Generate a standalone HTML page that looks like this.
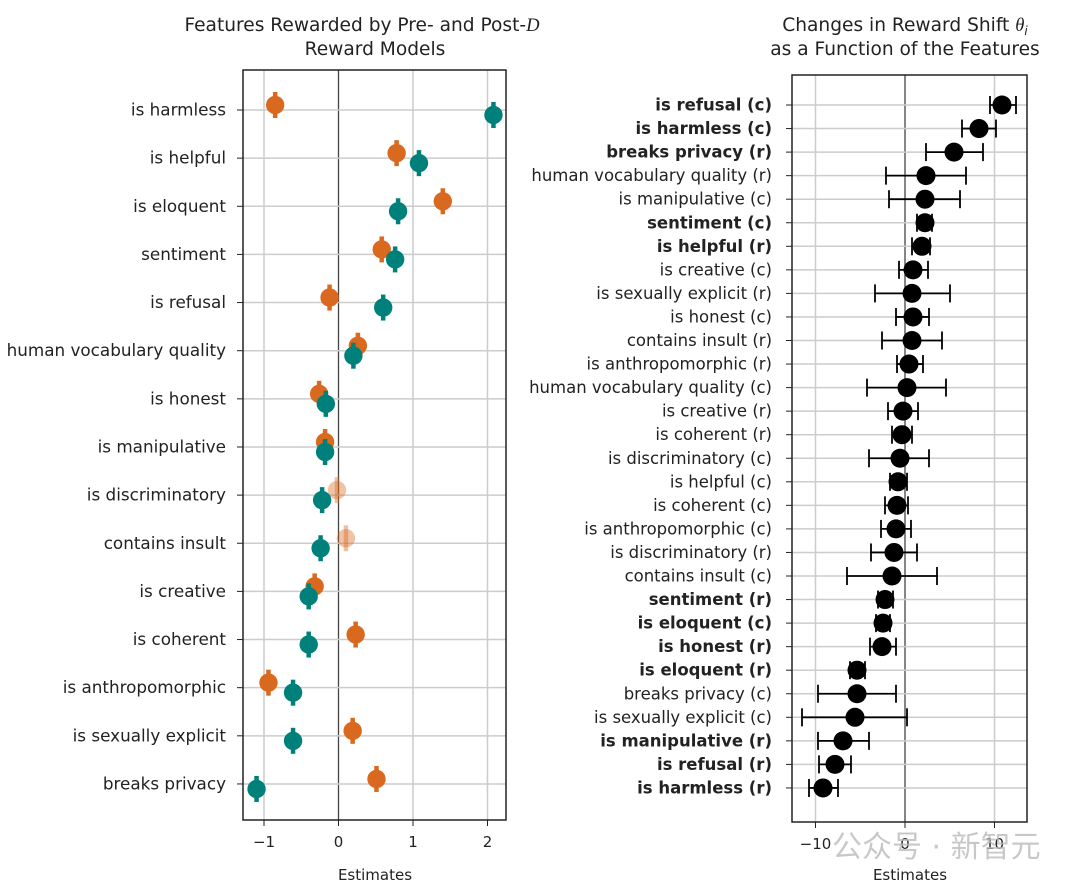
<!DOCTYPE html>
<html><head><meta charset="utf-8"><style>
html,body{margin:0;padding:0;background:#fff}
svg text{font-family:"DejaVu Sans","Liberation Sans",sans-serif;fill:#222}
</style></head><body>
<svg id="s" width="1080" height="888" xmlns="http://www.w3.org/2000/svg">
<text x="362" y="31" font-size="18.6" text-anchor="middle">Features Rewarded by Pre- and Post-<tspan font-style="italic" font-family="Liberation Serif">D</tspan></text>
<text x="375" y="55" font-size="18.6" text-anchor="middle">Reward Models</text>
<text x="905" y="31" font-size="18.6" text-anchor="middle">Changes in Reward Shift <tspan font-style="italic" font-family="Liberation Serif">θ</tspan><tspan font-size="12" dy="4" font-style="italic">i</tspan></text>
<text x="905" y="55" font-size="18.6" text-anchor="middle">as a Function of the Features</text>
<g id="L"></g><g id="R"></g>
<text x="375" y="880" font-size="15" text-anchor="middle">Estimates</text>
<text x="910" y="880" font-size="15" text-anchor="middle">Estimates</text>
<text x="832" y="857" font-size="30" fill="#bbb" style="fill:#bbb;opacity:.8" font-family="Noto Sans CJK SC,sans-serif">公众号 · 新智元</text>
</svg>
<script>
const NS="http://www.w3.org/2000/svg";
function el(p,t,a,txt){const e=document.createElementNS(NS,t);for(const k in a)e.setAttribute(k,a[k]);if(txt!==undefined)e.textContent=txt;p.appendChild(e);return e;}
const L=document.getElementById('L');
const lx=v=>338.5+74.5*v;
const rowsL=[["is harmless",-0.85,2.08],["is helpful",0.78,1.08],["is eloquent",1.4,0.8],["sentiment",0.58,0.76],["is refusal",-0.12,0.6],["human vocabulary quality",0.26,0.2],["is honest",-0.26,-0.17],["is manipulative",-0.18,-0.18],["is discriminatory",-0.02,-0.22,1],["contains insult",0.1,-0.24,1],["is creative",-0.32,-0.4],["is coherent",0.23,-0.4],["is anthropomorphic",-0.94,-0.61],["is sexually explicit",0.19,-0.61],["breaks privacy",0.51,-1.1]];
[-1,0,1,2].forEach(v=>{el(L,'line',{x1:lx(v),x2:lx(v),y1:70,y2:820,stroke:v==0?'#444':'#ccc','stroke-width':v==0?1.3:1.5});el(L,'line',{x1:lx(v),x2:lx(v),y1:820,y2:826,stroke:'#222'});el(L,'text',{x:lx(v),y:847,'font-size':15,'text-anchor':'middle'},v<0?'−1':String(v));});
rowsL.forEach((r,i)=>{const y=110+48.14*i;el(L,'line',{x1:243,x2:506,y1:y,y2:y,stroke:'#ccc','stroke-width':1.5});el(L,'line',{x1:237,x2:243,y1:y,y2:y,stroke:'#222'});el(L,'text',{x:226,y:y+5.5,'font-size':16.8,'text-anchor':'end'},r[0]);});
rowsL.forEach((r,i)=>{const y=110+48.14*i;
 const o=r[3]?0.4:1;
 [[r[1],y-5,'#d9691f',o],[r[2],y+5,'#00807a',1]].forEach(([v,yy,c,op])=>{el(L,'line',{x1:lx(v),x2:lx(v),y1:yy-13,y2:yy+13,stroke:c,'stroke-width':4.5,opacity:op});el(L,'circle',{cx:lx(v),cy:yy,r:9.2,fill:c,opacity:op});});});
el(L,'rect',{x:243,y:70,width:263,height:750,fill:'none',stroke:'#222','stroke-width':1.5});
const R=document.getElementById('R');
const rx=v=>905+8.95*v;
const rowsR=[["is refusal (c)",1,1002,990,1016],["is harmless (c)",1,979,962,996],["breaks privacy (r)",1,954,926,983],["human vocabulary quality (r)",0,926,886,966],["is manipulative (c)",0,925,889,960],["sentiment (c)",1,925,917,932],["is helpful (r)",1,922,912,930],["is creative (c)",0,913,899,928],["is sexually explicit (r)",0,912,875,950],["is honest (c)",0,913,896,929],["contains insult (r)",0,912,882,942],["is anthropomorphic (r)",0,909,897,923],["human vocabulary quality (c)",0,907,867,946],["is creative (r)",0,903,888,918],["is coherent (r)",0,902,892,912],["is discriminatory (c)",0,900,869,929],["is helpful (c)",0,898,890,907],["is coherent (c)",0,897,885,908],["is anthropomorphic (c)",0,896,881,911],["is discriminatory (r)",0,894,871,917],["contains insult (c)",0,892,847,937],["sentiment (r)",1,885,878,893],["is eloquent (c)",1,883,876,890],["is honest (r)",1,882,870,896],["is eloquent (r)",1,857,850,865],["breaks privacy (c)",0,857,818,896],["is sexually explicit (c)",0,855,802,907],["is manipulative (r)",1,843,818,869],["is refusal (r)",1,835,819,851],["is harmless (r)",1,823,809,838]];
[-10,0,10].forEach(v=>{el(R,'line',{x1:rx(v),x2:rx(v),y1:75,y2:822,stroke:v==0?'#444':'#ccc','stroke-width':v==0?1.3:1.5});el(R,'line',{x1:rx(v),x2:rx(v),y1:822,y2:828,stroke:'#222'});el(R,'text',{x:rx(v),y:849,'font-size':15,'text-anchor':'middle'},v<0?'−10':String(v));});
rowsR.forEach((r,i)=>{const y=105+23.55*i;el(R,'line',{x1:792,x2:1027,y1:y,y2:y,stroke:'#ccc','stroke-width':1.5});el(R,'line',{x1:786,x2:792,y1:y,y2:y,stroke:'#222'});el(R,'text',{x:772,y:y+5.5,'font-size':16.5,'text-anchor':'end','font-weight':r[1]?'bold':'normal'},r[0]);});
rowsR.forEach((r,i)=>{const y=105+23.55*i;el(R,'line',{x1:r[3],x2:r[4],y1:y,y2:y,stroke:'#000','stroke-width':1.8});[r[3],r[4]].forEach(x=>el(R,'line',{x1:x,x2:x,y1:y-9,y2:y+9,stroke:'#000','stroke-width':1.8}));el(R,'circle',{cx:r[2],cy:y,r:9.5,fill:'#000'});});
el(R,'rect',{x:792,y:75,width:235,height:747,fill:'none',stroke:'#222','stroke-width':1.5});
</script>
</body></html>
